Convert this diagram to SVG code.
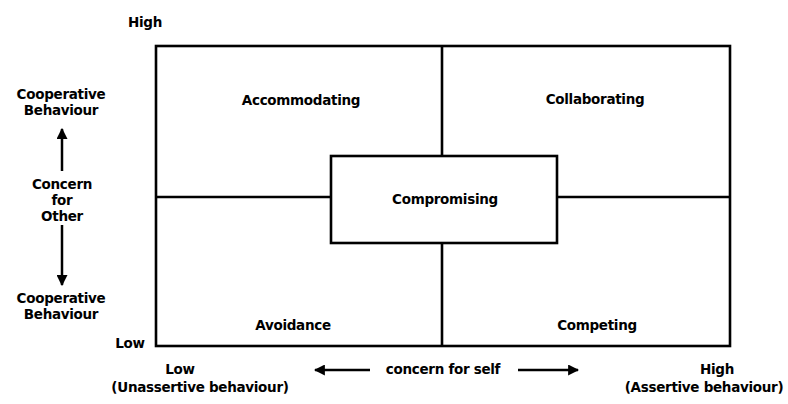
<svg xmlns="http://www.w3.org/2000/svg" width="788" height="404" viewBox="0 0 788 404">
<style>
text{font-family:"DejaVu Sans","Liberation Sans",Arial,sans-serif;font-weight:bold;font-size:13.5px;fill:#000;text-anchor:middle;letter-spacing:-0.3px}
.ln{stroke:#000;stroke-width:2.6;fill:none}
.ar{stroke:#000;stroke-width:2.5;fill:none}
</style>
<defs>
<marker id="ah" viewBox="0 0 10 10" refX="9" refY="5" markerWidth="4.4" markerHeight="4.4" orient="auto"><path d="M0,0 L10,5 L0,10 z" fill="#000"/></marker>
</defs>
<rect width="788" height="404" fill="#fff"/>
<g id="grid">
<rect class="ln" x="156" y="46" width="574" height="300"/>
<line class="ln" x1="442" y1="46" x2="442" y2="156"/>
<line class="ln" x1="442" y1="243" x2="442" y2="346"/>
<line class="ln" x1="156" y1="197" x2="331" y2="197"/>
<line class="ln" x1="557" y1="197" x2="730" y2="197"/>
</g>
<g id="accommodating"><text x="301" y="105">Accommodating</text></g>
<g id="collaborating"><text x="595" y="104">Collaborating</text></g>
<g id="compromising"><rect class="ln" x="331" y="156" width="226" height="87"/><text x="445" y="204">Compromising</text></g>
<g id="avoidance"><text x="293" y="330">Avoidance</text></g>
<g id="competing"><text x="597" y="330">Competing</text></g>
<g id="labels">
<text x="145" y="27">High</text>
<text x="130" y="348">Low</text>
<text x="61" y="99">Cooperative</text>
<text x="61" y="115">Behaviour</text>
<text x="62" y="189">Concern</text>
<text x="62" y="205">for</text>
<text x="62" y="221">Other</text>
<text x="61" y="303">Cooperative</text>
<text x="61" y="319">Behaviour</text>
<text x="180" y="374">Low</text>
<text x="200" y="392">(Unassertive behaviour)</text>
<text x="443" y="374">concern for self</text>
<text x="717" y="374">High</text>
<text x="704" y="392">(Assertive behaviour)</text>
</g>
<g id="connectors">
<line class="ar" x1="370" y1="370" x2="315" y2="370" marker-end="url(#ah)"/>
<line class="ar" x1="518" y1="370" x2="578" y2="370" marker-end="url(#ah)"/>
<line class="ar" x1="62" y1="171" x2="62" y2="129" marker-end="url(#ah)"/>
<line class="ar" x1="62" y1="225" x2="62" y2="285" marker-end="url(#ah)"/>
</g>
</svg>
